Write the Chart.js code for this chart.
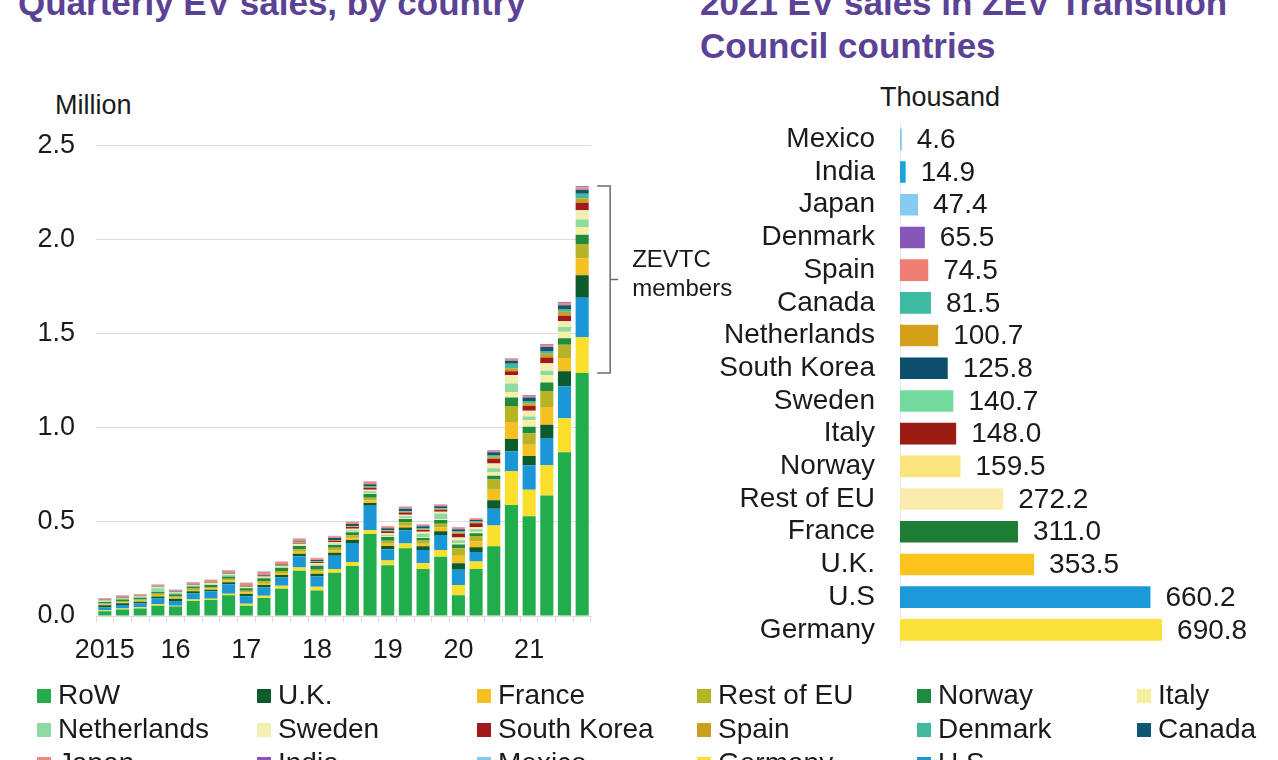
<!DOCTYPE html>
<html>
<head>
<meta charset="utf-8">
<script src="https://cdn.jsdelivr.net/npm/chart.js@4.4.0/dist/chart.umd.min.js"></script>
<style>
  body { margin: 0; width: 1278px; height: 760px; overflow: hidden; background: #fff; position: relative;
         font-family: "Liberation Sans", Arial, sans-serif; color: #1a1a1a; }
  .title { position: absolute; font-weight: bold; font-size: 35px; line-height: 43px; color: #5b4295; white-space: nowrap; }
  .unit { position: absolute; font-size: 27px; line-height: 30px; white-space: nowrap; }
  #left { position: absolute; left: 0; top: 108px; }
  #right { position: absolute; left: 640px; top: 80px; }
  #legend { position: absolute; left: 37px; top: 678px; display: grid; grid-template-columns: repeat(6, 220px); }
  #legend .item { height: 34px; line-height: 34px; font-size: 28px; white-space: nowrap; }
  #legend .sw { display: inline-block; width: 14px; height: 14px; margin-right: 7px; vertical-align: 1px; }
</style>
</head>
<body>
<div class="title" style="left:18px; top:-19px;">Quarterly EV sales, by country</div>
<div class="title" style="left:700px; top:-19px;">2021 EV sales in ZEV Transition<br>Council countries</div>
<div class="unit" style="left:55px; top:90px;">Million</div>
<div class="unit" style="left:880px; top:82px;">Thousand</div>
<canvas id="left" width="760" height="574"></canvas>
<canvas id="right" width="638" height="600"></canvas>
<div id="legend"></div>

<script>
// Quarterly EV sales, million (2015 Q1 .. 2021 Q4)
const quarters = ['2015 Q1','2015 Q2','2015 Q3','2015 Q4','2016 Q1','2016 Q2','2016 Q3','2016 Q4',
  '2017 Q1','2017 Q2','2017 Q3','2017 Q4','2018 Q1','2018 Q2','2018 Q3','2018 Q4',
  '2019 Q1','2019 Q2','2019 Q3','2019 Q4','2020 Q1','2020 Q2','2020 Q3','2020 Q4',
  '2021 Q1','2021 Q2','2021 Q3','2021 Q4'];
const yearLabels = ['2015', '16', '17', '18', '19', '20', '21'];

const row         = [0.025,0.035,0.04,0.055,0.05,0.08,0.085,0.11,0.055,0.095,0.145,0.24,0.135,0.23,0.265,0.435,0.27,0.36,0.25,0.315,0.11,0.25,0.37,0.59,0.53,0.64,0.87,1.29];
const germany     = [0.005,0.005,0.006,0.008,0.005,0.007,0.007,0.008,0.01,0.013,0.015,0.017,0.02,0.02,0.022,0.02,0.025,0.025,0.03,0.035,0.055,0.04,0.11,0.18,0.14,0.16,0.18,0.19];
const us          = [0.015,0.018,0.022,0.03,0.025,0.033,0.038,0.05,0.04,0.045,0.045,0.06,0.055,0.07,0.1,0.13,0.06,0.07,0.07,0.08,0.08,0.05,0.09,0.105,0.13,0.145,0.17,0.21];
const uk          = [0.012,0.01,0.008,0.01,0.012,0.011,0.01,0.011,0.012,0.012,0.013,0.013,0.015,0.016,0.016,0.015,0.017,0.015,0.02,0.02,0.035,0.025,0.045,0.065,0.05,0.07,0.08,0.12];
const france      = [0.004,0.005,0.005,0.008,0.007,0.007,0.006,0.009,0.008,0.01,0.01,0.011,0.011,0.012,0.012,0.013,0.012,0.013,0.013,0.02,0.04,0.03,0.055,0.09,0.06,0.095,0.07,0.09];
const restOfEU    = [0.006,0.007,0.007,0.008,0.007,0.008,0.008,0.01,0.009,0.01,0.011,0.014,0.013,0.014,0.014,0.015,0.015,0.015,0.018,0.02,0.04,0.03,0.055,0.085,0.06,0.085,0.07,0.075];
const norway      = [0.008,0.007,0.007,0.008,0.01,0.011,0.011,0.012,0.013,0.015,0.017,0.017,0.018,0.015,0.016,0.02,0.02,0.017,0.013,0.02,0.02,0.015,0.02,0.045,0.035,0.045,0.035,0.05];
const italy       = [0.001,0.001,0.001,0.001,0.001,0.001,0.001,0.001,0.001,0.001,0.001,0.002,0.002,0.002,0.002,0.003,0.003,0.003,0.003,0.004,0.007,0.007,0.02,0.03,0.035,0.04,0.035,0.04];
const netherlands = [0.005,0.006,0.007,0.02,0.006,0.004,0.004,0.008,0.002,0.002,0.002,0.003,0.005,0.006,0.008,0.012,0.01,0.012,0.02,0.03,0.015,0.013,0.02,0.045,0.02,0.022,0.025,0.04];
const sweden      = [0.001,0.002,0.002,0.003,0.003,0.003,0.004,0.004,0.004,0.005,0.005,0.006,0.007,0.007,0.008,0.008,0.008,0.008,0.01,0.01,0.015,0.012,0.025,0.045,0.03,0.04,0.03,0.05];
const southKorea  = [0.001,0.001,0.001,0.001,0.001,0.001,0.001,0.001,0.001,0.002,0.003,0.005,0.006,0.008,0.01,0.01,0.01,0.012,0.01,0.01,0.02,0.02,0.025,0.02,0.025,0.03,0.03,0.04];
const spain       = [0.001,0.001,0.001,0.001,0.001,0.001,0.002,0.002,0.002,0.002,0.002,0.002,0.003,0.003,0.003,0.004,0.004,0.004,0.004,0.005,0.007,0.006,0.01,0.015,0.015,0.02,0.02,0.022];
const denmark     = [0.001,0.002,0.001,0.003,0.001,0.001,0.001,0.001,0.001,0.001,0.001,0.001,0.001,0.001,0.002,0.002,0.002,0.002,0.003,0.004,0.005,0.005,0.01,0.025,0.012,0.015,0.015,0.025];
const canada      = [0.001,0.001,0.001,0.002,0.002,0.002,0.002,0.003,0.003,0.004,0.004,0.005,0.006,0.01,0.01,0.012,0.01,0.013,0.013,0.01,0.012,0.007,0.015,0.015,0.018,0.022,0.02,0.022];
const japan       = [0.008,0.008,0.006,0.008,0.007,0.008,0.012,0.012,0.015,0.018,0.014,0.013,0.01,0.01,0.012,0.015,0.01,0.01,0.008,0.008,0.01,0.008,0.008,0.01,0.01,0.012,0.012,0.013];
const india       = [0.001,0.001,0.001,0.001,0.001,0.001,0.001,0.001,0.001,0.001,0.001,0.001,0.001,0.001,0.001,0.001,0.001,0.001,0.001,0.001,0.001,0.001,0.002,0.002,0.003,0.003,0.004,0.005];
const mexico      = [0.001,0.0005,0.0005,0.0005,0.001,0.001,0.001,0.001,0.001,0.001,0.001,0.001,0.001,0.001,0.001,0.001,0.001,0.001,0.001,0.001,0.001,0.001,0.001,0.001,0.001,0.001,0.001,0.002];

// 2021 EV sales, thousand
const countries2021 = ['Mexico','India','Japan','Denmark','Spain','Canada','Netherlands','South Korea',
  'Sweden','Italy','Norway','Rest of EU','France','U.K.','U.S','Germany'];
const sales2021 = [4.6, 14.9, 47.4, 65.5, 74.5, 81.5, 100.7, 125.8, 140.7, 148.0, 159.5, 272.2, 311.0, 353.5, 660.2, 690.8];
const colors2021 = ['#86c6e6','#19a6d6','#86ccf0','#8657b8','#f07d72','#3fbaa2','#d4a018','#0e4e6d',
  '#72dc9e','#9b1c12','#f9e47e','#fbecae','#1e7d35','#fcc31c','#1b99d8','#fbe23a'];

const legendOrder = ['RoW','U.K.','France','Rest of EU','Norway','Italy','Netherlands','Sweden','South Korea',
  'Spain','Denmark','Canada','Japan','India','Mexico','Germany','U.S.'];

Chart.defaults.font.family = '"Liberation Sans", Arial, sans-serif';
Chart.defaults.color = '#1a1a1a';

// stacking order, bottom first
const series = [
  ['RoW', row, '#21ad4b'],
  ['Germany', germany, '#fae02c'],
  ['U.S.', us, '#1b97d6'],
  ['U.K.', uk, '#0b5b2c'],
  ['France', france, '#f6c120'],
  ['Rest of EU', restOfEU, '#b6b326'],
  ['Norway', norway, '#1f8b3f'],
  ['Italy', italy, '#f6f0a2'],
  ['Netherlands', netherlands, '#8fd9a2'],
  ['Sweden', sweden, '#f3eeb2'],
  ['South Korea', southKorea, '#a0191b'],
  ['Spain', spain, '#c9a022'],
  ['Denmark', denmark, '#42b99c'],
  ['Canada', canada, '#0f5670'],
  ['Japan', japan, '#ef8a80'],
  ['India', india, '#8a52bf'],
  ['Mexico', mexico, '#80c8ee']
];

const htmlLegend = {
  id: 'htmlLegend',
  afterUpdate(chart) {
    const box = document.getElementById('legend');
    box.innerHTML = '';
    const items = chart.options.plugins.legend.labels.generateLabels(chart);
    items.sort((a, b) => legendOrder.indexOf(a.text) - legendOrder.indexOf(b.text));
    items.forEach(item => {
      const div = document.createElement('div');
      div.className = 'item';
      const sw = document.createElement('span');
      sw.className = 'sw';
      sw.style.background = item.fillStyle;
      const tx = document.createElement('span');
      tx.textContent = item.text;
      div.append(sw, tx);
      box.appendChild(div);
    });
  }
};

// bracket round the ZEVTC part of the last bar
const zevtcBracket = {
  id: 'zevtcBracket',
  afterDatasetsDraw(chart) {
    const ctx = chart.ctx, xs = chart.scales.x, ys = chart.scales.y;
    const last = quarters.length - 1;
    let total = 0;
    chart.data.datasets.forEach(d => total += d.data[last]);
    const top = ys.getPixelForValue(total);
    const bottom = ys.getPixelForValue(row[last]);
    const cx = xs.getPixelForValue(last);
    const bx = cx + 28, mid = (top + bottom) / 2;
    ctx.save();
    ctx.strokeStyle = '#6b6b6b';
    ctx.lineWidth = 1.5;
    ctx.beginPath();
    ctx.moveTo(cx + 15, top); ctx.lineTo(bx, top); ctx.lineTo(bx, bottom); ctx.lineTo(cx + 15, bottom);
    ctx.moveTo(bx, mid); ctx.lineTo(bx + 8, mid);
    ctx.stroke();
    ctx.fillStyle = '#1a1a1a';
    ctx.font = '24px "Liberation Sans", Arial, sans-serif';
    ctx.textBaseline = 'middle';
    ctx.fillText('ZEVTC', bx + 22, mid - 19);
    ctx.fillText('members', bx + 22, mid + 10);
    ctx.restore();
  }
};

new Chart(document.getElementById('left'), {
  type: 'bar',
  data: {
    labels: quarters,
    datasets: series.map(s => ({
      label: s[0], data: s[1], backgroundColor: s[2],
      barPercentage: 0.74, categoryPercentage: 1
    }))
  },
  options: {
    responsive: false,
    animation: false,
    layout: { padding: { left: 0, top: 25, right: 169, bottom: 6 } },
    plugins: { legend: { display: false }, tooltip: { enabled: false } },
    scales: {
      x: {
        stacked: true,
        grid: { display: true, drawOnChartArea: false, tickLength: 6, color: '#ecd3da' },
        border: { display: true, color: '#d9d9d9' },
        ticks: {
          autoSkip: false, maxRotation: 0, padding: 12, font: { size: 27 },
          callback: (v, i) => i % 4 === 0 ? yearLabels[i / 4] : ''
        },
        afterFit: s => { s.height = 60; }
      },
      y: {
        stacked: true, min: 0, max: 2.5,
        grid: { color: '#dcdcdc', drawTicks: false },
        border: { display: false },
        ticks: { stepSize: 0.5, padding: 21, font: { size: 27 }, callback: v => v.toFixed(1) },
        afterFit: s => { s.width = 96; }
      }
    }
  },
  plugins: [htmlLegend, zevtcBracket]
});

// value labels at the end of each horizontal bar
const valueLabels = {
  id: 'valueLabels',
  afterDatasetsDraw(chart) {
    const ctx = chart.ctx;
    const meta = chart.getDatasetMeta(0);
    ctx.save();
    ctx.fillStyle = '#1a1a1a';
    ctx.font = '28px "Liberation Sans", Arial, sans-serif';
    ctx.textBaseline = 'middle';
    meta.data.forEach((bar, i) => {
      ctx.fillText(sales2021[i].toFixed(1), bar.x + 15, bar.y + 1);
    });
    ctx.restore();
  }
};

new Chart(document.getElementById('right'), {
  type: 'bar',
  data: {
    labels: countries2021,
    datasets: [{ data: sales2021, backgroundColor: colors2021, barPercentage: 0.66, categoryPercentage: 1 }]
  },
  options: {
    indexAxis: 'y',
    responsive: false,
    animation: false,
    layout: { padding: { left: 0, top: 43, right: 17.6, bottom: 15.7 } },
    plugins: { legend: { display: false }, tooltip: { enabled: false } },
    scales: {
      x: { display: false, min: 0, max: 950 },
      y: {
        grid: { display: false },
        border: { display: true, color: '#e2e9f0' },
        ticks: { autoSkip: false, padding: 17, font: { size: 28 } },
        afterFit: s => { s.width = 260; }
      }
    }
  },
  plugins: [valueLabels]
});
</script>
</body>
</html>
